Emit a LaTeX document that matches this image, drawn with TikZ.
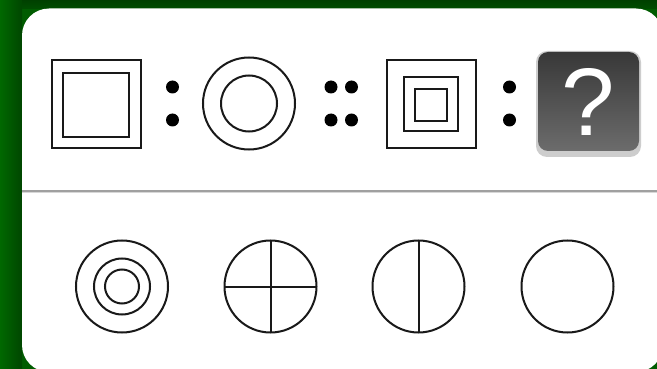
\documentclass[tikz,border=0pt]{standalone}
\usepackage{fontspec}
\newfontfamily\qfont{Liberation Sans}
\begin{document}
\begin{tikzpicture}[x=1pt,y=-1pt,
  shp/.style={draw=black!90,line width=2pt,inner sep=0pt,outer sep=0pt},
  sq/.style={shp,rectangle},
  circ/.style={shp,circle},
  ln/.style={line width=2pt,black!90},
  dotn/.style={circle,fill=black,inner sep=0pt,minimum size=13pt}]
\useasboundingbox (0,0) rectangle (657,369);
% green background
\fill[color={rgb,255:red,0;green,92;blue,0}] (0,0) rectangle (657,369);
\shade[left color={rgb,255:red,0;green,104;blue,0},right color={rgb,255:red,0;green,70;blue,0}] (0,0) rectangle (22,369);
\shade[top color={rgb,255:red,0;green,64;blue,0},bottom color={rgb,255:red,0;green,78;blue,0}] (22,0) rectangle (657,9);
% white panel
\fill[white,rounded corners=27pt] (22,8.5) rectangle (663,372);
% separator
\draw[line width=3pt,color={rgb,255:red,215;green,215;blue,215}] (22,191) -- (663,191);
\draw[line width=1.6pt,color={rgb,255:red,160;green,160;blue,160}] (22,191) -- (663,191);
% top row
\node[sq,minimum width=89pt,minimum height=88pt] (s1o) at (96,104.5) {};
\node[sq,minimum width=66pt,minimum height=64pt] (s1i) at (95.5,105.5) {};
\node[dotn] (d1a) at (172.5,87) {};
\node[dotn] (d1b) at (172.5,120) {};
\node[circ,minimum size=92pt] (c1o) at (249,103.5) {};
\node[circ,minimum size=56pt] (c1i) at (249,103.5) {};
\node[dotn] (d2a) at (331,87) {};
\node[dotn] (d2b) at (351.5,87) {};
\node[dotn] (d2c) at (331,120) {};
\node[dotn] (d2d) at (351.5,120) {};
\node[sq,minimum width=89pt,minimum height=88pt] (s2o) at (431,104.5) {};
\node[sq,minimum size=54pt] (s2m) at (431,104) {};
\node[sq,minimum size=32pt] (s2i) at (430.7,105.5) {};
\node[dotn] (d3a) at (509.5,87) {};
\node[dotn] (d3b) at (509.5,120) {};
% question box
\fill[rounded corners=11pt,color={rgb,255:red,205;green,205;blue,205}] (536,51) rectangle (641,157);
\shade[rounded corners=10pt,top color={rgb,255:red,56;green,56;blue,56},bottom color={rgb,255:red,108;green,108;blue,108}] (538,52) rectangle (639,151);
\node[text=white,inner sep=0pt,font=\qfont\fontsize{96}{96}\selectfont] (q) at (588,102) {?};
% bottom row
\node[circ,minimum size=92pt] (b1o) at (122,286.5) {};
\node[circ,minimum size=56pt] (b1m) at (122,286.5) {};
\node[circ,minimum size=34pt] (b1i) at (122,286.5) {};
\node[circ,minimum size=92pt] (b2) at (270.5,286.5) {};
\draw[ln] (b2.north) -- (b2.south);
\draw[ln] (b2.west) -- (b2.east);
\node[circ,minimum size=92pt] (b3) at (418.5,286.5) {};
\draw[ln] (b3.north) -- (b3.south);
\node[circ,minimum size=92pt] (b4) at (567.5,286.5) {};
\end{tikzpicture}
\end{document}
